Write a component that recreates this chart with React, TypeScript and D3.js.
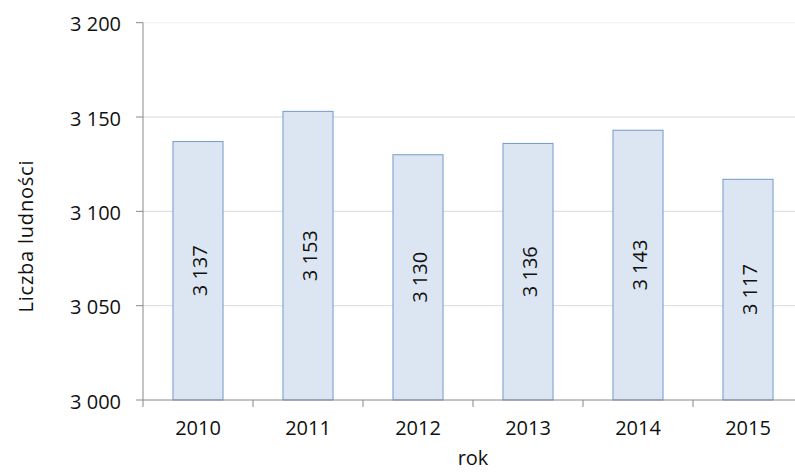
import React from "react";
import * as d3 from "d3";

const width = 795;
const height = 472;

// plot area (extends past the right edge, as in the reference)
const left = 143;
const right = 803;
const top = 22.7;
const bottom = 400;

const years = ["2010", "2011", "2012", "2013", "2014", "2015"];
const population = [3137, 3153, 3130, 3136, 3143, 3117];
const yTicks = [3000, 3050, 3100, 3150, 3200];

const x = d3.scaleBand().domain(years).range([left, right]).paddingInner(0.545).paddingOuter(0.2725);
const y = d3.scaleLinear().domain([3000, 3200]).range([bottom, top]);

const fmt = (v: number) => d3.format(",")(v).replace(",", " ");
const font = "'Open Sans', Roboto, sans-serif";
const fs = 20;
const ink = "#111";

const App = () => {
  const step = x.step();
  return (
    <div style={{ position: "fixed", left: 0, top: 0 }}>
      <svg width={width} height={height} style={{ display: "block", background: "white" }} fontFamily={font}>
        {/* gridlines */}
        {yTicks.slice(1).map((t) => (
          <line
            key={t}
            x1={left}
            x2={right}
            y1={y(t)}
            y2={y(t)}
            stroke={t === 3200 ? "#f0f0f0" : "#d9d9d9"}
            strokeWidth={1}
          />
        ))}
        {/* bars */}
        {years.map((yr, i) => (
          <rect
            key={yr}
            x={x(yr)}
            y={y(population[i])}
            width={x.bandwidth()}
            height={bottom - y(population[i])}
            fill="#dce6f2"
            stroke="#7398cf"
            strokeWidth={1}
          />
        ))}
        {/* bar labels */}
        {years.map((yr, i) => {
          const cx = (x(yr) ?? 0) + x.bandwidth() / 2;
          const cy = (y(population[i]) + bottom) / 2;
          return (
            <text
              key={yr}
              transform={`translate(${cx},${cy}) rotate(-90)`}
              textAnchor="middle"
              dy={8.5}
              fontSize={fs}
              fill={ink}
            >
              {fmt(population[i])}
            </text>
          );
        })}
        {/* y axis */}
        <line x1={left} x2={left} y1={top} y2={bottom} stroke="#888" />
        {yTicks.map((t) => (
          <g key={t}>
            <line x1={left - 7} x2={left} y1={y(t)} y2={y(t)} stroke="#888" />
            <text x={121} y={y(t)} dy={8.5} textAnchor="end" fontSize={fs} fill={ink}>
              {fmt(t)}
            </text>
          </g>
        ))}
        {/* x axis */}
        <line x1={left} x2={right} y1={bottom} y2={bottom} stroke="#888" />
        {d3.range(years.length + 1).map((i) => (
          <line
            key={i}
            x1={left + i * step}
            x2={left + i * step}
            y1={bottom}
            y2={bottom + 7}
            stroke="#888"
          />
        ))}
        {years.map((yr) => (
          <text
            key={yr}
            x={(x(yr) ?? 0) + x.bandwidth() / 2}
            y={435}
            textAnchor="middle"
            fontSize={fs}
            fill={ink}
          >
            {yr}
          </text>
        ))}
        {/* axis titles */}
        <text x={(left + right) / 2} y={465} textAnchor="middle" fontSize={fs} fill={ink}>
          rok
        </text>
        <text
          transform={`translate(33,236.5) rotate(-90)`}
          textAnchor="middle"
          fontSize={fs}
          textLength={152}
          lengthAdjust="spacing"
          fill={ink}
        >
          Liczba ludności
        </text>
      </svg>
    </div>
  );
};

export default App;
